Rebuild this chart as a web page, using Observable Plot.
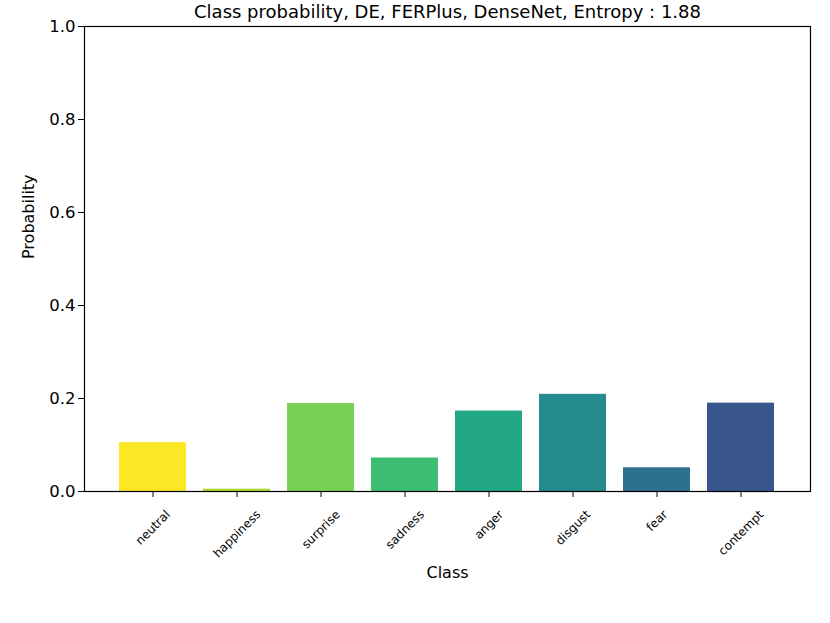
<!DOCTYPE html>
<html>
<head>
<meta charset="utf-8">
<script src="https://cdn.jsdelivr.net/npm/d3@7"></script>
<script src="https://cdn.jsdelivr.net/npm/@observablehq/plot@0.6"></script>
<style>
  html, body { margin: 0; padding: 0; background: #fff; }
  #chart { width: 830px; height: 623px; }
  svg { font-family: "DejaVu Sans", sans-serif; }
</style>
</head>
<body>
<div id="chart"></div>
<script>
const categories = ["neutral", "happiness", "surprise", "sadness", "anger", "disgust", "fear", "contempt"];
const probabilities = [0.105, 0.005, 0.189, 0.072, 0.173, 0.209, 0.051, 0.190];
const barColors = ["#fde725", "#addc30", "#77d153", "#3dbc74", "#22a785", "#238a8d", "#2c718e", "#39568c"];
const yTicks = [0.0, 0.2, 0.4, 0.6, 0.8, 1.0];
const titleText = "Class probability, DE, FERPlus, DenseNet, Entropy : 1.88";
const xLabel = "Class";
const yLabel = "Probability";

const data = categories.map((c, i) => ({cls: c, p: probabilities[i]}));

// rotated tick labels (matplotlib-like: rotation 45, ha=center, va=top)
const tickFont = 12;
const ctx = document.createElement("canvas").getContext("2d");
ctx.font = `${tickFont}px "DejaVu Sans"`;
const c45 = Math.SQRT1_2;
const tickLabelMarks = categories.map(c => {
  const w = ctx.measureText(c).width;
  const h = tickFont * 1.17;
  const half = (w + h) * c45 / 2;
  return Plot.text([c], {
    x: d => d, frameAnchor: "bottom", dy: 16 + half,
    rotate: -45, textAnchor: "middle", lineAnchor: "middle",
    fontSize: tickFont, fill: "black"
  });
});

const chart = Plot.plot({
  width: 830,
  height: 623,
  marginTop: 26,
  marginLeft: 84,
  marginRight: 20,
  marginBottom: 132,
  style: {fontFamily: '"DejaVu Sans", sans-serif', background: "white"},
  x: {type: "band", domain: categories, paddingInner: 0.2, paddingOuter: 0.39},
  y: {domain: [0, 1]},
  color: {type: "ordinal", domain: categories, range: barColors},
  marks: [
    Plot.barY(data, {x: "cls", y: "p", fill: "cls"}),
    Plot.frame({stroke: "black", strokeWidth: 1.2}),
    Plot.axisY({ticks: yTicks, tickFormat: ".1f", tickSize: 6, tickPadding: 3, fontSize: 16.5, label: null, stroke: "black", fill: "black"}),
    Plot.axisX({tickSize: 6, tickFormat: () => "", label: null, stroke: "black"}),
    ...tickLabelMarks,
    Plot.text([xLabel], {frameAnchor: "bottom", dy: 86, fontSize: 16, fill: "black"}),
    Plot.text([yLabel], {frameAnchor: "left", dx: -56, rotate: -90, fontSize: 16, fill: "black"}),
    Plot.text([titleText], {frameAnchor: "top", dy: -21, fontSize: 18, fill: "black"})
  ]
});
document.getElementById("chart").appendChild(chart);
</script>
</body>
</html>
